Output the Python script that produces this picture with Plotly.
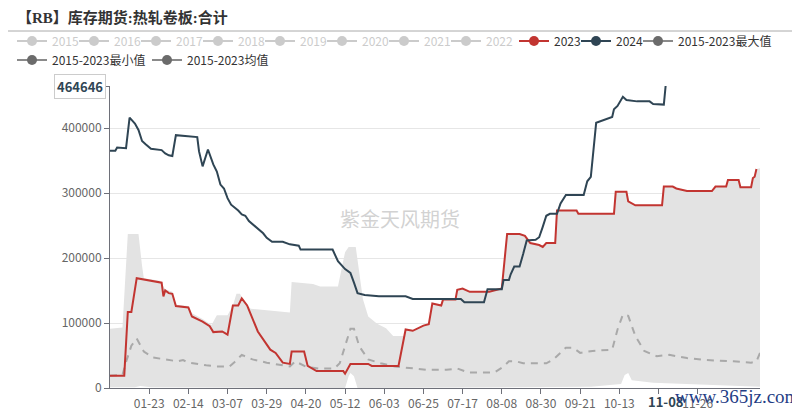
import plotly.graph_objects as go

YEAR = "2024"

# ---------------- data ----------------
dates_2023 = ["01-01","01-09","01-11","01-13","01-16","01-30","01-31","02-01","02-03","02-05",
              "02-07","02-14","02-16","02-22","02-26","02-28","03-04","03-07","03-10","03-13",
              "03-15","03-18","03-24","03-31","04-03","04-07","04-11","04-12","04-19","04-21",
              "04-26","05-11","05-12","05-15","05-25","05-27","06-11","06-15","06-19","06-25",
              "06-28","06-30","07-05","07-06","07-13","07-14","07-17","07-21","08-01","08-08",
              "08-11","08-18","08-21","08-24","08-29","08-31","09-02","09-07","09-08","09-19",
              "09-20","10-10","10-11","10-17","10-18","10-22","11-06","11-07","11-12","11-14",
              "11-20","12-04","12-06","12-12","12-13","12-19","12-20","12-26","12-27","12-28",
              "12-29"]
values_2023 = [19000,19000,117000,117000,169000,162000,141000,150000,146000,145000,
               126000,124000,110000,102000,95000,86000,87000,82000,127000,127000,
               138000,127000,87000,59000,54000,39000,37000,56000,56000,34000,
               26000,26000,22000,37000,37000,34000,34000,90000,88000,96000,
               98000,130000,127000,136000,136000,151000,153000,148000,148000,153000,
               237000,237000,234000,223000,220000,217000,223000,223000,273000,273000,
               268000,268000,302000,302000,287000,281000,281000,310000,310000,307000,
               303000,303000,310000,310000,320000,320000,309000,309000,323000,325000,
               337000]

dates_2024 = ["01-01","01-04","01-05","01-10","01-12","01-15","01-17","01-19","01-21","01-24",
              "01-30","02-01","02-03","02-05","02-07","02-19","02-20","02-22","02-25","02-28",
              "03-01","03-03","03-05","03-07","03-09","03-13","03-15","03-17","03-19","03-23",
              "03-27","03-29","04-01","04-07","04-11","04-16","04-17","05-05","05-08","05-12",
              "05-15","05-17","05-19","05-23","05-31","06-15","06-19","07-16","07-18","07-29",
              "07-31","08-08","08-09","08-12","08-13","08-15","08-18","08-20","08-22","08-27",
              "08-29","08-31","09-02","09-04","09-08","09-10","09-13","09-23","09-25","09-27",
              "09-30","10-09","10-10","10-12","10-15","10-17","10-23","10-30","11-01","11-07",
              "11-08"]
values_2024 = [365000,365000,370000,369000,416000,407000,397000,380000,375000,368000,
               366000,361000,358000,357000,389000,386000,364000,341000,367000,344000,
               333000,313000,307000,292000,282000,273000,267000,265000,257000,248000,
               238000,231000,225000,225000,221000,219000,213000,213000,195000,183000,
               177000,162000,146000,143000,141000,141000,137000,137000,132000,132000,
               152000,152000,166000,166000,175000,187000,187000,206000,227000,228000,
               232000,248000,265000,268000,268000,284000,297000,297000,318000,325000,
               408000,417000,429000,434000,448000,443000,441000,441000,437000,436000,
               464646]

dates_max = ["01-01","01-08","01-11","01-17","01-19","01-20","01-29","02-01","02-05","02-07",
             "02-14","02-16","02-22","02-27","03-01","03-07","03-10","03-12","03-14","03-16",
             "03-20","04-08","04-11","04-12","04-24","04-28","05-08","05-12","05-14","05-18",
             "05-20","05-22","05-25","05-30","06-04","06-08","06-14",
             "06-15","06-19","06-25","06-28","06-30","07-05","07-06","07-13","07-14","07-17",
             "07-21","08-01","08-08","08-11","08-18","08-21","08-24","08-29","08-31","09-02",
             "09-07","09-08","09-19","09-20","10-10","10-11","10-17","10-18","10-22","11-06",
             "11-07","11-12","11-14","11-20","12-04","12-06","12-12","12-13","12-19","12-20",
             "12-26","12-27","12-28","12-29","12-31"]
values_max = [91000,93000,237000,237000,188000,169000,165000,152000,148000,128000,
              126000,115000,106000,97000,112000,112000,127000,145000,145000,134000,
              122000,116000,116000,163000,160000,156000,156000,209000,217000,217000,
              178000,137000,110000,99000,92000,80000,80000,
              90000,88000,96000,98000,130000,127000,136000,136000,151000,153000,
              148000,148000,153000,237000,237000,234000,223000,220000,217000,223000,
              223000,273000,273000,268000,268000,302000,302000,287000,281000,281000,
              310000,310000,307000,303000,303000,310000,310000,320000,320000,309000,
              309000,323000,325000,337000,338000]

dates_min = ["01-01","01-15","01-18","01-24","05-12","05-14","05-15","05-17","05-19",
             "09-27","10-14","10-16","10-18","10-20","11-01","11-30","12-31"]
values_min = [1000,1000,3000,1000,0,18000,23000,18000,0,
              2000,6000,20000,23000,12000,8000,5000,2000]

dates_mean = ["01-01","01-08","01-10","01-13","01-16","01-20","01-25","02-03","02-08","02-11",
              "02-14","02-24","03-01","03-08","03-11","03-15","03-21","03-29","04-08","04-11",
              "04-14","04-20","04-27","05-06","05-09","05-13","05-15","05-17","05-20","05-25",
              "06-01","06-09","06-19","06-27","07-08","07-14","07-20","08-04","08-09","08-12",
              "08-16","08-20","09-02","09-06","09-13","09-17","09-21","09-28","10-09","10-12",
              "10-15","10-18","10-22","10-27","11-03","11-10","11-20","12-01","12-16","12-26",
              "12-29","12-31"]
values_mean = [19000,20000,40000,65000,76000,56000,47000,43000,41000,43000,
               39000,35000,33000,33000,40000,51000,44000,39000,34000,33000,
               41000,33000,30000,30000,38000,75000,91000,91000,64000,44000,
               38000,33000,30000,28000,28000,30000,24000,24000,33000,41000,
               41000,38000,38000,44000,62000,62000,54000,57000,59000,90000,
               113000,111000,80000,57000,49000,51000,46000,43000,41000,39000,
               41000,54000]

inactive_years = ["2015","2016","2017","2018","2019","2020","2021","2022"]
x_tick_labels = ["01-23","02-14","03-07","03-29","04-20","05-12","06-03","06-25",
                 "07-17","08-08","08-30","09-21","10-13","11-04","11-26"]
y_tick_values = [0, 100000, 200000, 300000, 400000]
y_max = 464646
pointer_date = "11-08"

# ---------------- figure ----------------
FONT = "Noto Sans CJK SC, Liberation Sans, sans-serif"
C2023 = "#c23531"
C2024 = "#2f4554"
CSTAT = "#6b6b6b"


def full(ds):
    return [f"{YEAR}-{d}" for d in ds]


fig = go.Figure()

# band: min (base) then max filled to it
fig.add_trace(go.Scatter(x=full(dates_min), y=values_min, mode="lines",
                         line=dict(width=0, color="rgba(0,0,0,0)"),
                         showlegend=False, hoverinfo="skip"))
fig.add_trace(go.Scatter(x=full(dates_max), y=values_max, mode="lines",
                         line=dict(width=0, color="rgba(0,0,0,0)"),
                         fill="tonexty", fillcolor="#e3e3e3",
                         showlegend=False, hoverinfo="skip"))
# mean
fig.add_trace(go.Scatter(x=full(dates_mean), y=values_mean, mode="lines",
                         line=dict(color="#a9a9a9", width=2, dash="7px,6px"),
                         showlegend=False))
# 2023 / 2024
fig.add_trace(go.Scatter(x=full(dates_2023), y=values_2023, mode="lines",
                         line=dict(color=C2023, width=2), showlegend=False))
fig.add_trace(go.Scatter(x=full(dates_2024), y=values_2024, mode="lines",
                         line=dict(color=C2024, width=2), showlegend=False))

# legend entries
for i, yr in enumerate(inactive_years):
    fig.add_trace(go.Scatter(x=[None], y=[None], mode="lines+markers", name=yr,
                             visible="legendonly", legend="legend",
                             legendwidth=(34 if i == len(inactive_years) - 1 else 17),
                             line=dict(color="#999999", width=2),
                             marker=dict(color="#999999", size=10)))
for name, col, lcol, lw in [("2023", C2023, C2023, 17), ("2024", C2024, C2024, 17),
                            ("2015-2023最大值", CSTAT, "#8a8a8a", 100)]:
    fig.add_trace(go.Scatter(x=[None], y=[None], mode="lines+markers", name=name,
                             legend="legend2", legendwidth=lw,
                             line=dict(color=lcol, width=2),
                             marker=dict(color=col, size=10)))
for name, lw in [("2015-2023最小值", 90), ("2015-2023均值", 90)]:
    fig.add_trace(go.Scatter(x=[None], y=[None], mode="lines+markers", name=name,
                             legend="legend3", legendwidth=lw,
                             line=dict(color="#8a8a8a", width=2),
                             marker=dict(color=CSTAT, size=10)))

# page body has an 8px margin: the figure is offset by (8, 8) in the window
OFF = 8
W, H = 800 - OFF, 410 - OFF
PLOT_L, PLOT_R, PLOT_T, PLOT_B = 110, 760, 86, 388   # reference pixel coords
L, R = PLOT_L - OFF, W - (PLOT_R - OFF)
T, B = PLOT_T - OFF, H - (PLOT_B - OFF)
PW, PH = W - L - R, H - T - B


def px(xpix):
    return (xpix - OFF - L) / PW


def py(ypix):
    return (H - B - (ypix - OFF)) / PH


legend_common = dict(orientation="h", xanchor="left", yanchor="middle",
                     bgcolor="rgba(0,0,0,0)", itemwidth=30, traceorder="normal",
                     entrywidthmode="pixels", itemclick=False, itemdoubleclick=False)

fig.update_layout(
    width=W, height=H,
    margin=dict(l=L, r=R, t=T, b=B, autoexpand=False),
    paper_bgcolor="white", plot_bgcolor="white",
    font=dict(family=FONT, size=12, color="#333"),
    legend=dict(**legend_common, x=px(12), y=py(41),
                font=dict(family=FONT, size=12, color="#999999")),
    legend2=dict(**legend_common, x=px(514), y=py(41),
                 font=dict(family=FONT, size=12, color="#333333")),
    legend3=dict(**legend_common, x=px(12), y=py(60),
                 font=dict(family=FONT, size=12, color="#333333")),
    xaxis=dict(
        type="date",
        range=[f"{YEAR}-01-01", f"{YEAR}-12-31"],
        tickmode="array",
        tickvals=full(x_tick_labels),
        ticktext=[("" if t == "11-04" else t) for t in x_tick_labels],
        ticks="outside", ticklen=5, tickcolor="#6e7079",
        showline=True, linecolor="#6e7079", linewidth=1,
        showgrid=False, zeroline=False,
        tickfont=dict(family=FONT, size=12, color="#666"),
    ),
    yaxis=dict(
        range=[0, y_max],
        tickmode="array",
        tickvals=y_tick_values + [y_max],
        ticktext=[str(v) for v in y_tick_values] + [""],
        ticks="outside", ticklen=5, tickcolor="#6e7079",
        showline=True, linecolor="#6e7079", linewidth=1,
        showgrid=True, gridcolor="#e6e6e6", gridwidth=1,
        zeroline=False,
        tickfont=dict(family=FONT, size=12, color="#666"),
    ),
    showlegend=True,
)

# title
fig.add_annotation(text="<b>【RB】库存期货:热轧卷板:合计</b>", xref="paper", yref="paper",
                   x=px(15), y=py(17), xanchor="left", yanchor="middle", showarrow=False,
                   font=dict(family="Liberation Serif, Noto Sans CJK SC", size=15, color="#333"))
# separator line under title
fig.add_shape(type="line", xref="paper", yref="paper", x0=px(OFF), x1=px(792),
              y0=py(31), y1=py(31), line=dict(color="#aaaaaa", width=1))
# watermark
fig.add_annotation(text="紫金天风期货", xref="paper", yref="paper",
                   x=px(400), y=py(218), xanchor="center", yanchor="middle", showarrow=False,
                   font=dict(family=FONT, size=20, color="rgba(190,190,190,0.7)"))
# max label box on y axis
fig.add_annotation(text=f"<b>{y_max}</b>", xref="paper", yref="y",
                   x=px(106), y=y_max, xanchor="right", yanchor="middle", showarrow=False,
                   bgcolor="white", bordercolor="#cccccc", borderwidth=1, borderpad=2,
                   font=dict(family=FONT, size=13, color=C2024))
# axis pointer label
fig.add_annotation(text=f"<b>{pointer_date}</b>", xref="x", yref="paper",
                   x=f"{YEAR}-{pointer_date}", y=py(401), xanchor="center", yanchor="middle",
                   showarrow=False,
                   font=dict(family=FONT, size=13, color=C2024))
# site stamp
fig.add_annotation(text="www.365jz.com", xref="paper", yref="paper",
                   x=px(737), y=py(396), xanchor="center", yanchor="middle", showarrow=False,
                   font=dict(family="Liberation Serif, DejaVu Serif, serif", size=19, color="#1f3d85"))

fig.write_html("out.html")
